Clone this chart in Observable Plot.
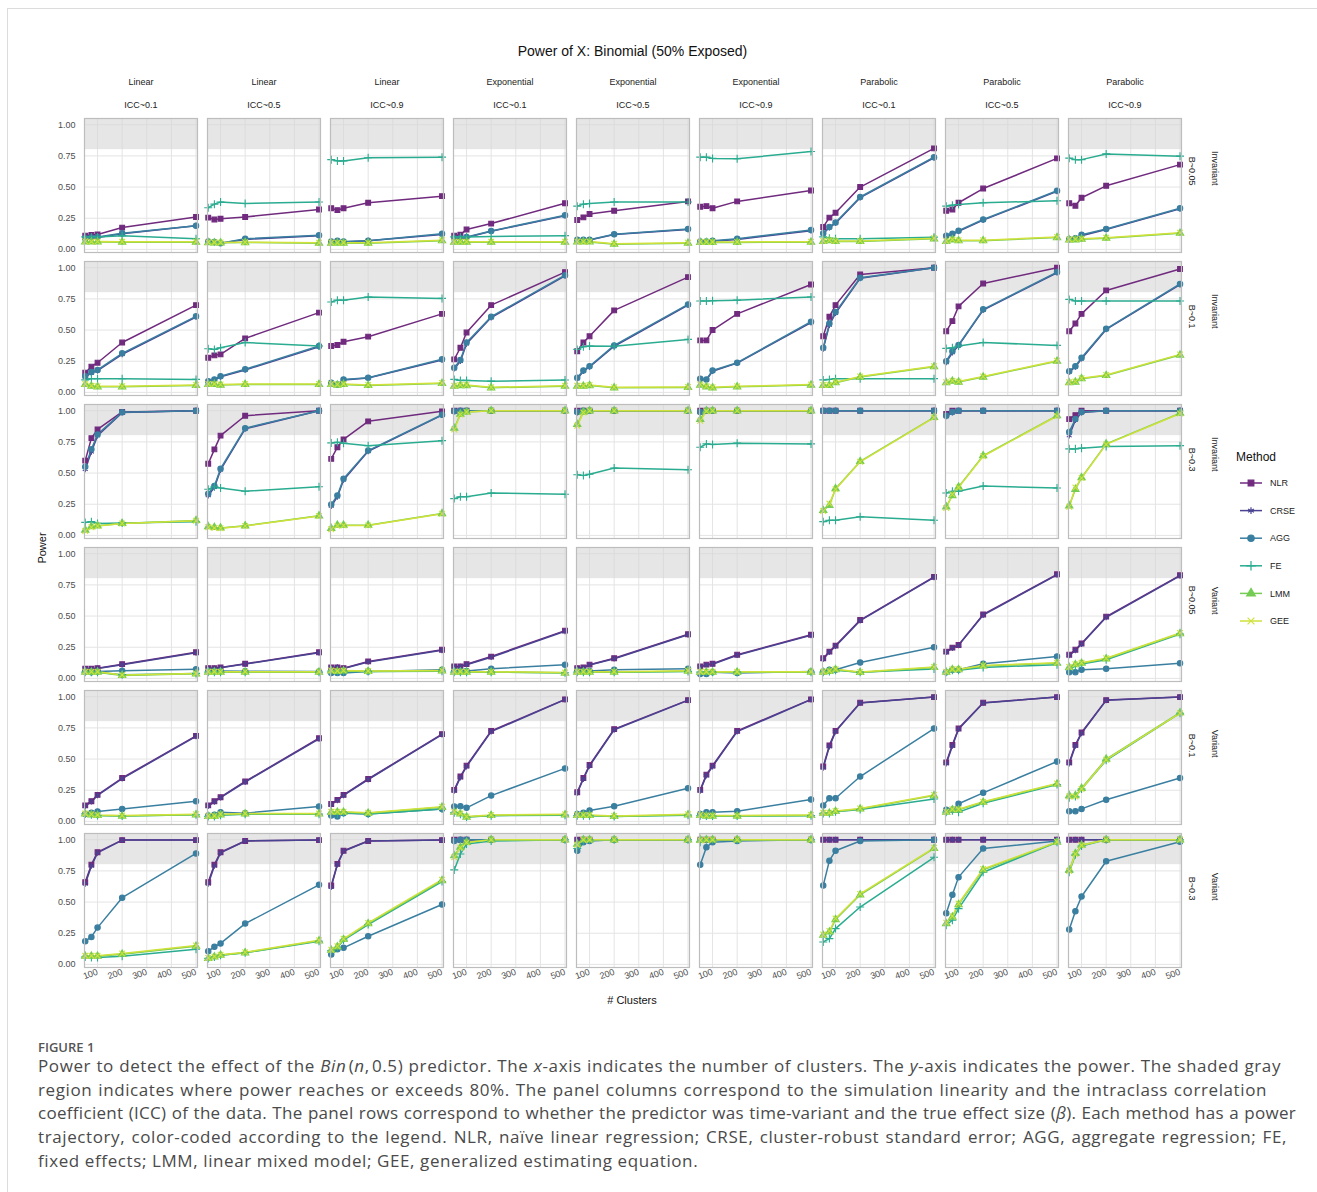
<!DOCTYPE html>
<html>
<head>
<meta charset="utf-8">
<script src="https://cdn.jsdelivr.net/npm/d3@7"></script>
<script src="https://cdn.jsdelivr.net/npm/@observablehq/plot@0.6"></script>
<style>
  html, body { margin: 0; padding: 0; background: #fff; }
  #page { position: relative; width: 1317px; height: 1192px; overflow: hidden; font-family: "Liberation Sans", Arial, sans-serif; }
  #border { position: absolute; left: 7px; top: 8px; right: -2px; bottom: -2px; border-top: 1px solid #dcdcdc; border-left: 1px solid #dcdcdc; }
  #title { position: absolute; top: 43px; left: 0; width: 1265px; text-align: center; font-size: 14px; color: #111; }
  #chart { position: absolute; left: 0; top: 65px; }
  #ylab { position: absolute; left: 42px; top: 548px; transform: translate(-50%, -50%) rotate(-90deg); font-size: 11px; color: #111; }
  #xlab { position: absolute; left: 632px; top: 1000px; transform: translate(-50%, -50%); font-size: 11px; color: #111; }
  #legend { position: absolute; left: 1232px; top: 447px; }
  #figlabel { position: absolute; left: 38px; top: 1038px; font-family: "Open Sans", "Noto Sans", sans-serif; font-size: 13px; color: #555; font-weight: 600; }
  #caption { position: absolute; left: 38px; top: 1054px; font-family: "Open Sans", "Noto Sans", sans-serif; font-size: 17px; letter-spacing: 0.6px; line-height: 23.7px; color: #4a4a4a; }
  #caption .ln { text-align: justify; text-align-last: justify; }
  #caption .tight { letter-spacing: 0.3px; }
  #caption .last { text-align: left; text-align-last: left; }
</style>
</head>
<body>
<div id="page">
  <div id="border"></div>
  <div id="title">Power of X: Binomial (50% Exposed)</div>
  <div id="chart"></div>
  <div id="ylab">Power</div>
  <div id="xlab"># Clusters</div>
  <div id="legend"></div>
  <div id="figlabel">FIGURE 1</div>
  <div id="caption">
    <div class="ln" style="width:1243px">Power to detect the effect of the <i>Bin</i>&#8202;(<i>n</i>,&#8202;0.5) predictor. The <i>x</i>-axis indicates the number of clusters. The <i>y</i>-axis indicates the power. The shaded gray</div>
    <div class="ln" style="width:1229px">region indicates where power reaches or exceeds 80%. The panel columns correspond to the simulation linearity and the intraclass correlation</div>
    <div class="ln tight" style="width:1258px">coefficient (ICC) of the data. The panel rows correspond to whether the predictor was time-variant and the true effect size (<i>β</i>). Each method has a power</div>
    <div class="ln" style="width:1249px">trajectory, color-coded according to the legend. NLR, naïve linear regression; CRSE, cluster-robust standard error; AGG, aggregate regression; FE,</div>
    <div class="ln last" style="width:1249px">fixed effects; LMM, linear mixed model; GEE, generalized estimating equation.</div>
  </div>
</div>
<script>
// ---------- categories ----------
const methods = ["NLR", "CRSE", "AGG", "FE", "LMM", "GEE"];
const methodColors = ["#702a7e", "#4a4392", "#3a7fa0", "#2aac90", "#74cc55", "#cfe13a"];
const methodSymbols = ["square", "asterisk", "circle", "plus", "triangle", "times"];
const colLinearity = ["Linear", "Linear", "Linear", "Exponential", "Exponential", "Exponential", "Parabolic", "Parabolic", "Parabolic"];
const colICC = ["ICC~0.1", "ICC~0.5", "ICC~0.9", "ICC~0.1", "ICC~0.5", "ICC~0.9", "ICC~0.1", "ICC~0.5", "ICC~0.9"];
const rowVariance = ["Invariant", "Invariant", "Invariant", "Variant", "Variant", "Variant"];
const rowBeta = ["B~0.05", "B~0.1", "B~0.3", "B~0.05", "B~0.1", "B~0.3"];
const clusters = [50, 75, 100, 200, 500];
const xTicks = [100, 200, 300, 400, 500];
const yTicks = [0, 0.25, 0.5, 0.75, 1];
const powerThreshold = 0.8;

// ---------- power values: [column][cluster index] per method and row ----------
// Row 1: Invariant, B~0.05
const NLR_r1 = [[0.11,0.115,0.12,0.175,0.26],[0.255,0.24,0.246,0.26,0.32],[0.33,0.315,0.33,0.374,0.427],[0.11,0.117,0.16,0.207,0.37],[0.236,0.257,0.284,0.31,0.385],[0.342,0.347,0.33,0.385,0.472],[0.18,0.255,0.294,0.5,0.81],[0.31,0.32,0.374,0.488,0.73],[0.37,0.35,0.414,0.51,0.68]];
const CRSE_r1 = [[0.085,0.09,0.095,0.125,0.19],[0.06,0.055,0.05,0.08,0.11],[0.06,0.065,0.06,0.07,0.12],[0.085,0.09,0.095,0.145,0.27],[0.075,0.075,0.075,0.12,0.16],[0.06,0.06,0.065,0.08,0.15],[0.125,0.175,0.21,0.415,0.735],[0.105,0.12,0.145,0.235,0.465],[0.08,0.085,0.11,0.16,0.325]];
const AGG_r1 = [[0.09,0.095,0.1,0.13,0.19],[0.064,0.06,0.05,0.085,0.114],[0.064,0.07,0.064,0.07,0.125],[0.09,0.09,0.1,0.148,0.273],[0.077,0.077,0.077,0.122,0.164],[0.064,0.064,0.07,0.085,0.156],[0.13,0.18,0.215,0.42,0.74],[0.11,0.125,0.15,0.24,0.47],[0.082,0.09,0.117,0.164,0.33]];
const FE_r1 = [[0.1,0.1,0.1,0.11,0.085],[0.334,0.363,0.38,0.368,0.38],[0.72,0.71,0.71,0.735,0.74],[0.1,0.1,0.1,0.103,0.11],[0.347,0.363,0.368,0.38,0.38],[0.74,0.74,0.73,0.727,0.785],[0.1,0.09,0.085,0.085,0.098],[0.347,0.355,0.36,0.374,0.39],[0.732,0.72,0.72,0.766,0.748]];
const LMM_r1 = [[0.06,0.06,0.06,0.058,0.058],[0.055,0.053,0.053,0.055,0.05],[0.05,0.05,0.05,0.05,0.07],[0.058,0.058,0.058,0.058,0.058],[0.06,0.06,0.06,0.042,0.05],[0.056,0.056,0.056,0.056,0.058],[0.064,0.07,0.064,0.064,0.085],[0.064,0.077,0.07,0.07,0.095],[0.077,0.077,0.082,0.09,0.13]];
const GEE_r1 = [[0.065,0.062,0.063,0.062,0.062],[0.058,0.056,0.055,0.058,0.053],[0.055,0.053,0.054,0.054,0.073],[0.062,0.061,0.062,0.061,0.062],[0.063,0.062,0.063,0.046,0.054],[0.06,0.059,0.06,0.06,0.062],[0.068,0.073,0.068,0.068,0.089],[0.068,0.08,0.074,0.074,0.099],[0.08,0.081,0.086,0.094,0.134]];
// Row 2: Invariant, B~0.1
const NLR_r2 = [[0.158,0.206,0.238,0.4,0.7],[0.278,0.297,0.305,0.433,0.64],[0.372,0.38,0.406,0.447,0.63],[0.265,0.358,0.48,0.7,0.965],[0.33,0.4,0.45,0.658,0.925],[0.417,0.417,0.5,0.63,0.866],[0.45,0.607,0.7,0.946,1.0],[0.49,0.572,0.69,0.874,1.0],[0.49,0.553,0.63,0.818,0.99]];
const CRSE_r2 = [[0.125,0.155,0.175,0.305,0.605],[0.085,0.1,0.125,0.18,0.365],[0.075,0.06,0.1,0.115,0.26],[0.19,0.25,0.39,0.6,0.935],[0.11,0.17,0.205,0.37,0.7],[0.105,0.1,0.17,0.235,0.56],[0.35,0.54,0.635,0.915,1.0],[0.24,0.32,0.375,0.66,0.96],[0.165,0.205,0.27,0.505,0.865]];
const AGG_r2 = [[0.13,0.163,0.18,0.313,0.61],[0.09,0.104,0.13,0.185,0.372],[0.078,0.064,0.104,0.118,0.265],[0.198,0.26,0.4,0.607,0.94],[0.118,0.176,0.21,0.377,0.706],[0.11,0.104,0.176,0.238,0.567],[0.358,0.553,0.644,0.92,1.0],[0.25,0.33,0.38,0.666,0.965],[0.17,0.21,0.278,0.51,0.87]];
const FE_r2 = [[0.1,0.11,0.11,0.11,0.104],[0.35,0.345,0.358,0.4,0.372],[0.725,0.74,0.74,0.765,0.754],[0.104,0.096,0.096,0.09,0.099],[0.345,0.366,0.372,0.37,0.425],[0.733,0.733,0.735,0.74,0.765],[0.1,0.104,0.11,0.11,0.11],[0.353,0.358,0.372,0.4,0.377],[0.746,0.733,0.733,0.733,0.733]];
const LMM_r2 = [[0.064,0.05,0.045,0.045,0.056],[0.064,0.064,0.059,0.064,0.064],[0.064,0.059,0.064,0.056,0.072],[0.05,0.055,0.055,0.037,0.05],[0.05,0.05,0.055,0.037,0.04],[0.059,0.045,0.037,0.045,0.059],[0.056,0.056,0.078,0.123,0.206],[0.078,0.09,0.083,0.123,0.25],[0.078,0.083,0.11,0.136,0.3]];
const GEE_r2 = [[0.068,0.054,0.049,0.049,0.06],[0.068,0.068,0.063,0.068,0.068],[0.068,0.063,0.068,0.06,0.076],[0.054,0.059,0.059,0.041,0.054],[0.054,0.054,0.059,0.041,0.044],[0.063,0.049,0.041,0.049,0.063],[0.06,0.06,0.082,0.127,0.21],[0.082,0.094,0.087,0.127,0.254],[0.082,0.087,0.114,0.14,0.305]];
// Row 3: Invariant, B~0.3
const NLR_r3 = [[0.6,0.78,0.85,0.99,1.0],[0.575,0.69,0.8,0.96,1.0],[0.614,0.707,0.77,0.915,0.995],[1,1,1,1,1],[1,1,1,1,1],[1,1,1,1,1],[1,1,1,1,1],[0.975,1,1,1,1],[0.933,0.965,1,1,1]];
const CRSE_r3 = [[0.53,0.67,0.8,0.985,1.0],[0.32,0.385,0.525,0.855,1.0],[0.235,0.31,0.445,0.675,0.965],[0.995,1,1,1,1],[0.985,1,1,1,1],[0.985,1,1,1,1],[1,1,1,1,1],[0.955,0.985,1,1,1],[0.8,0.925,0.985,1,1]];
const AGG_r3 = [[0.55,0.69,0.81,0.987,1.0],[0.335,0.396,0.535,0.86,1.0],[0.247,0.32,0.455,0.68,0.968],[0.995,1,1,1,1],[0.99,1,1,1,1],[0.99,1,1,1,1],[1,1,1,1,1],[0.96,0.99,1,1,1],[0.83,0.933,0.99,1,1]];
const FE_r3 = [[0.104,0.11,0.096,0.1,0.11],[0.37,0.39,0.38,0.354,0.39],[0.742,0.747,0.74,0.72,0.76],[0.295,0.31,0.31,0.34,0.33],[0.487,0.48,0.49,0.54,0.527],[0.707,0.734,0.73,0.74,0.734],[0.11,0.122,0.122,0.15,0.122],[0.34,0.354,0.354,0.396,0.38],[0.694,0.694,0.7,0.713,0.72]];
const LMM_r3 = [[0.043,0.07,0.077,0.096,0.12],[0.07,0.064,0.06,0.077,0.157],[0.056,0.082,0.082,0.082,0.175],[0.86,0.973,0.99,1,1],[0.89,0.99,1,1,1],[0.93,1,1,1,1],[0.2,0.24,0.375,0.593,0.947],[0.229,0.32,0.388,0.64,0.96],[0.237,0.37,0.463,0.734,0.98]];
const GEE_r3 = [[0.035,0.065,0.075,0.095,0.118],[0.066,0.06,0.057,0.075,0.155],[0.05,0.078,0.08,0.08,0.173],[0.85,0.97,0.99,1,1],[0.88,0.985,1,1,1],[0.92,0.995,1,1,1],[0.195,0.255,0.37,0.59,0.945],[0.22,0.33,0.385,0.635,0.958],[0.23,0.385,0.46,0.73,0.978]];
// Row 4: Variant, B~0.05
const NLR_r4 = [[0.077,0.077,0.082,0.114,0.21],[0.082,0.082,0.088,0.117,0.21],[0.088,0.088,0.082,0.136,0.23],[0.096,0.096,0.114,0.175,0.383],[0.082,0.088,0.11,0.162,0.354],[0.096,0.11,0.117,0.19,0.35],[0.162,0.215,0.263,0.468,0.814],[0.215,0.247,0.268,0.513,0.835],[0.19,0.23,0.28,0.495,0.827]];
const CRSE_r4 = [[0.075,0.075,0.08,0.11,0.205],[0.08,0.08,0.085,0.115,0.205],[0.085,0.09,0.08,0.132,0.225],[0.093,0.095,0.11,0.17,0.378],[0.08,0.085,0.107,0.158,0.35],[0.093,0.107,0.114,0.186,0.345],[0.155,0.21,0.258,0.463,0.81],[0.21,0.242,0.265,0.508,0.83],[0.185,0.225,0.275,0.49,0.823]];
const AGG_r4 = [[0.056,0.05,0.056,0.061,0.074],[0.06,0.06,0.06,0.058,0.056],[0.043,0.043,0.043,0.056,0.07],[0.06,0.06,0.06,0.077,0.11],[0.06,0.06,0.06,0.07,0.077],[0.035,0.035,0.05,0.043,0.056],[0.056,0.07,0.07,0.128,0.25],[0.05,0.07,0.07,0.117,0.175],[0.05,0.05,0.07,0.077,0.122]];
const FE_r4 = [[0.05,0.05,0.05,0.03,0.04],[0.05,0.05,0.05,0.05,0.05],[0.058,0.055,0.058,0.055,0.058],[0.05,0.05,0.05,0.05,0.045],[0.05,0.05,0.05,0.05,0.056],[0.05,0.05,0.05,0.05,0.05],[0.05,0.055,0.065,0.05,0.075],[0.05,0.065,0.065,0.088,0.11],[0.07,0.1,0.115,0.15,0.355]];
const LMM_r4 = [[0.05,0.05,0.05,0.024,0.037],[0.05,0.05,0.05,0.05,0.05],[0.06,0.056,0.06,0.056,0.06],[0.05,0.05,0.05,0.05,0.043],[0.05,0.05,0.05,0.05,0.058],[0.05,0.05,0.05,0.05,0.05],[0.05,0.056,0.07,0.048,0.088],[0.05,0.07,0.07,0.1,0.122],[0.088,0.11,0.122,0.157,0.36]];
const GEE_r4 = [[0.054,0.053,0.054,0.028,0.04],[0.054,0.054,0.053,0.054,0.054],[0.064,0.06,0.063,0.06,0.064],[0.054,0.054,0.053,0.054,0.047],[0.054,0.053,0.054,0.054,0.062],[0.054,0.054,0.053,0.054,0.054],[0.054,0.06,0.074,0.052,0.092],[0.054,0.074,0.074,0.104,0.126],[0.092,0.114,0.126,0.161,0.364]];
// Row 5: Variant, B~0.1
const NLR_r5 = [[0.128,0.162,0.213,0.348,0.686],[0.128,0.162,0.194,0.32,0.667],[0.14,0.173,0.213,0.34,0.7],[0.253,0.36,0.447,0.726,0.979],[0.234,0.348,0.452,0.74,0.973],[0.253,0.375,0.447,0.726,0.979],[0.44,0.61,0.726,0.952,0.997],[0.473,0.614,0.745,0.952,0.997],[0.473,0.614,0.713,0.973,0.997]];
const CRSE_r5 = [[0.122,0.158,0.208,0.343,0.682],[0.122,0.157,0.19,0.316,0.662],[0.135,0.168,0.208,0.336,0.696],[0.245,0.352,0.44,0.72,0.977],[0.228,0.34,0.445,0.735,0.971],[0.245,0.368,0.44,0.72,0.977],[0.43,0.6,0.72,0.95,0.997],[0.463,0.605,0.74,0.95,0.997],[0.463,0.605,0.707,0.971,0.997]];
const AGG_r5 = [[0.06,0.07,0.08,0.1,0.162],[0.048,0.053,0.074,0.066,0.12],[0.048,0.04,0.066,0.06,0.1],[0.12,0.122,0.109,0.207,0.425],[0.06,0.07,0.088,0.122,0.266],[0.06,0.074,0.074,0.082,0.176],[0.128,0.186,0.186,0.36,0.745],[0.093,0.093,0.141,0.229,0.48],[0.082,0.082,0.1,0.173,0.348]];
const FE_r5 = [[0.06,0.053,0.048,0.043,0.053],[0.04,0.04,0.05,0.058,0.058],[0.06,0.06,0.07,0.06,0.1],[0.07,0.058,0.035,0.046,0.05],[0.046,0.046,0.046,0.04,0.05],[0.046,0.043,0.043,0.043,0.046],[0.064,0.064,0.078,0.095,0.18],[0.074,0.085,0.074,0.146,0.295],[0.19,0.2,0.26,0.49,0.868]];
const LMM_r5 = [[0.06,0.053,0.048,0.043,0.053],[0.04,0.04,0.053,0.06,0.06],[0.074,0.074,0.074,0.066,0.114],[0.074,0.06,0.035,0.048,0.053],[0.048,0.048,0.048,0.04,0.053],[0.048,0.043,0.043,0.043,0.048],[0.066,0.066,0.08,0.1,0.207],[0.074,0.093,0.093,0.154,0.3],[0.207,0.207,0.266,0.5,0.872]];
const GEE_r5 = [[0.064,0.057,0.052,0.047,0.057],[0.044,0.044,0.057,0.064,0.064],[0.078,0.078,0.078,0.07,0.118],[0.078,0.064,0.039,0.052,0.057],[0.052,0.052,0.052,0.044,0.057],[0.052,0.047,0.047,0.047,0.052],[0.07,0.07,0.084,0.104,0.211],[0.078,0.097,0.097,0.158,0.304],[0.2,0.2,0.26,0.495,0.868]];
// Row 6: Variant, B~0.3
const NLR_r6 = [[0.66,0.8,0.9,0.997,0.997],[0.66,0.8,0.9,0.99,0.997],[0.633,0.806,0.912,0.99,0.997],[1,1,1,1,1],[1,1,1,1,1],[1,1,1,1,1],[1,1,1,1,1],[1,1,1,1,1],[1,1,1,1,1]];
const CRSE_r6 = [[0.645,0.79,0.895,0.997,0.997],[0.645,0.79,0.895,0.99,0.997],[0.62,0.8,0.908,0.99,0.997],[0.998,1,1,1,1],[0.998,1,1,1,1],[0.998,1,1,1,1],[0.998,1,1,1,1],[0.998,1,1,1,1],[0.998,1,1,1,1]];
const AGG_r6 = [[0.186,0.22,0.295,0.535,0.89],[0.106,0.141,0.168,0.327,0.638],[0.08,0.122,0.133,0.226,0.48],[0.99,1,1,1,1],[0.912,0.98,0.99,1,1],[0.8,0.94,0.98,0.99,1],[0.633,0.832,0.912,0.99,1],[0.41,0.558,0.7,0.93,0.99],[0.28,0.426,0.545,0.827,0.984]];
const FE_r6 = [[0.06,0.056,0.056,0.066,0.122],[0.048,0.06,0.074,0.093,0.185],[0.11,0.135,0.195,0.32,0.665],[0.758,0.886,0.965,0.99,1],[0.93,0.99,1,1,1],[0.98,1,1,1,1],[0.18,0.207,0.287,0.46,0.859],[0.314,0.354,0.447,0.739,0.98],[0.74,0.88,0.95,1,1]];
const LMM_r6 = [[0.066,0.066,0.066,0.082,0.146],[0.048,0.06,0.074,0.093,0.189],[0.114,0.141,0.2,0.327,0.673],[0.872,0.94,0.98,1,1],[0.965,1,1,1,1],[1,1,1,1,1],[0.234,0.26,0.36,0.558,0.93],[0.327,0.38,0.48,0.758,0.98],[0.758,0.89,0.957,1,1]];
const GEE_r6 = [[0.07,0.07,0.07,0.088,0.152],[0.052,0.064,0.078,0.097,0.193],[0.118,0.145,0.205,0.333,0.68],[0.86,0.935,0.978,1,1],[0.96,1,1,1,1],[0.995,1,1,1,1],[0.24,0.268,0.368,0.565,0.935],[0.335,0.388,0.488,0.765,0.983],[0.75,0.885,0.955,1,1]];

// ---------- tidy table ----------
const byMethod = {
  NLR: [NLR_r1, NLR_r2, NLR_r3, NLR_r4, NLR_r5, NLR_r6],
  CRSE: [CRSE_r1, CRSE_r2, CRSE_r3, CRSE_r4, CRSE_r5, CRSE_r6],
  AGG: [AGG_r1, AGG_r2, AGG_r3, AGG_r4, AGG_r5, AGG_r6],
  FE: [FE_r1, FE_r2, FE_r3, FE_r4, FE_r5, FE_r6],
  LMM: [LMM_r1, LMM_r2, LMM_r3, LMM_r4, LMM_r5, LMM_r6],
  GEE: [GEE_r1, GEE_r2, GEE_r3, GEE_r4, GEE_r5, GEE_r6]
};
const data = [];
for (const m of methods) {
  byMethod[m].forEach((rowArr, r) => {
    rowArr.forEach((vals, c) => {
      vals.forEach((v, i) => data.push({method: m, row: r, col: c, clusters: clusters[i], power: v}));
    });
  });
}
const colIdx = d3.range(colICC.length);
const rowIdx = d3.range(rowBeta.length);
const xDomain = [47, 506];
const yDomain = [-0.025, 1.05];
const shade = [{y1: powerThreshold, y2: yDomain[1]}];

const chart = Plot.plot({
  width: 1317,
  height: 945,
  marginTop: 51,
  marginLeft: 82,
  marginRight: 134,
  marginBottom: 41,
  style: {fontFamily: "'Liberation Sans', Arial, sans-serif", fontSize: "9px", background: "transparent"},
  fx: {domain: colIdx, axis: null, paddingInner: 0.08, paddingOuter: 0},
  fy: {domain: rowIdx, axis: null, paddingInner: 0.065, paddingOuter: 0},
  x: {domain: xDomain, label: null},
  y: {domain: yDomain, label: null},
  color: {domain: methods, range: methodColors},
  symbol: {domain: methods, range: methodSymbols},
  marks: [
    Plot.gridX({ticks: xTicks, stroke: "#e4e4e4", strokeOpacity: 1, strokeWidth: 1}),
    Plot.gridY({ticks: yTicks, stroke: "#e4e4e4", strokeOpacity: 1, strokeWidth: 1}),
    Plot.rect(shade, {x1: () => xDomain[0], x2: () => xDomain[1], y1: "y1", y2: "y2", fill: "#d6d6d6", fillOpacity: 0.6}),
    Plot.line(data, {x: "clusters", y: "power", z: "method", stroke: "method", fx: "col", fy: "row", strokeWidth: 1.5}),
    Plot.dot(data, {x: "clusters", y: "power", symbol: "method", stroke: "method", fill: "method", fx: "col", fy: "row", r: 2.7, strokeWidth: 1.1}),
    Plot.frame({stroke: "#bdbdbd", strokeWidth: 1.2}),
    Plot.axisY({ticks: yTicks, tickFormat: d3.format(".2f"), tickSize: 0, tickPadding: 9, fontSize: 9, color: "#4d4d4d", label: null}),
    Plot.axisX({ticks: xTicks, tickSize: 0, tickPadding: 4, tickRotate: -20, fontSize: 9, color: "#4d4d4d", label: null}),
    Plot.text(colIdx, {fx: d => d, fy: () => rowIdx[0], text: d => colLinearity[d], frameAnchor: "top", dy: -40, fontSize: 9, fill: "#222"}),
    Plot.text(colIdx, {fx: d => d, fy: () => rowIdx[0], text: d => colICC[d], frameAnchor: "top", dy: -17, fontSize: 9, fill: "#222"}),
    Plot.text(rowIdx, {fy: d => d, fx: () => colIdx[colIdx.length - 1], text: d => rowBeta[d], frameAnchor: "right", dx: 10, rotate: 90, fontSize: 9, fill: "#222"}),
    Plot.text(rowIdx, {fy: d => d, fx: () => colIdx[colIdx.length - 1], text: d => rowVariance[d], frameAnchor: "right", dx: 33, rotate: 90, fontSize: 9, fill: "#222"})
  ]
});
document.getElementById("chart").appendChild(chart);

// ---------- legend ----------
const symbolTypes = {square: d3.symbolSquare, asterisk: d3.symbolAsterisk, circle: d3.symbolCircle, plus: d3.symbolPlus, triangle: d3.symbolTriangle, times: d3.symbolTimes};
const leg = d3.select("#legend").append("svg").attr("width", 85).attr("height", 190)
  .style("font-family", "'Liberation Sans', Arial, sans-serif");
leg.append("text").attr("x", 4).attr("y", 14).attr("font-size", 12).attr("fill", "#111").text("Method");
methods.forEach((m, i) => {
  const g = leg.append("g").attr("transform", `translate(0, ${36 + i * 27.6})`);
  g.append("line").attr("x1", 8).attr("x2", 30).attr("stroke", methodColors[i]).attr("stroke-width", 1.5);
  g.append("path").attr("transform", "translate(19,0)")
    .attr("d", d3.symbol(symbolTypes[methodSymbols[i]], Math.PI * 3.2 * 3.2)())
    .attr("fill", methodColors[i]).attr("stroke", methodColors[i]).attr("stroke-width", 1.2);
  g.append("text").attr("x", 38).attr("dy", "0.35em").attr("font-size", 9).attr("fill", "#222").text(m);
});
</script>
</body>
</html>
